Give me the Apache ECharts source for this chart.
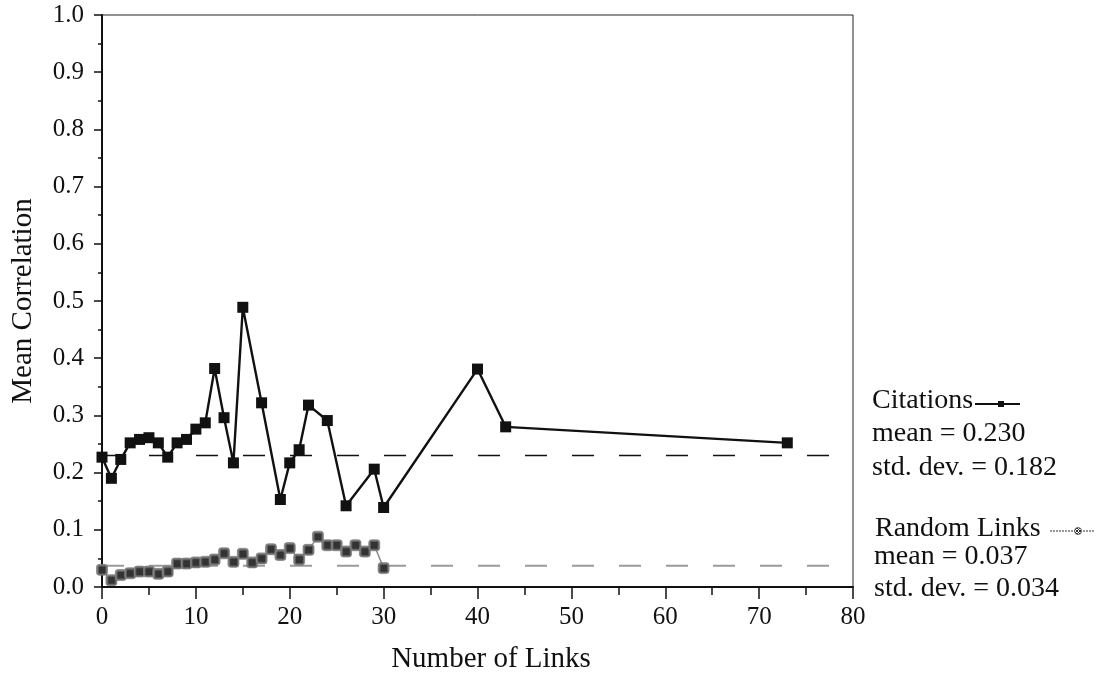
<!DOCTYPE html>
<html>
<head>
<meta charset="utf-8">
<script src="https://cdn.jsdelivr.net/npm/echarts@6/dist/echarts.min.js"></script>
<style>
  html, body { margin: 0; padding: 0; background: #ffffff; }
  #chart { width: 1103px; height: 676px; }
</style>
</head>
<body>
<div id="chart"></div>
<script>
// Mean correlation against number of links
const citationLinks = [0, 1, 2, 3, 4, 5, 6, 7, 8, 9, 10, 11, 12, 13, 14, 15, 17, 19, 20, 21, 22, 24, 26, 29, 30, 40, 43, 73];
const citationCorr  = [0.227, 0.190, 0.223, 0.252, 0.258, 0.261, 0.252, 0.227, 0.252, 0.258, 0.276, 0.287, 0.382, 0.296, 0.217, 0.489, 0.322, 0.153, 0.217, 0.240, 0.318, 0.291, 0.142, 0.206, 0.139, 0.381, 0.280, 0.252];

const randomLinks = [0, 1, 2, 3, 4, 5, 6, 7, 8, 9, 10, 11, 12, 13, 14, 15, 16, 17, 18, 19, 20, 21, 22, 23, 24, 25, 26, 27, 28, 29, 30];
const randomCorr  = [0.030, 0.012, 0.021, 0.024, 0.027, 0.027, 0.023, 0.027, 0.041, 0.041, 0.043, 0.044, 0.048, 0.059, 0.044, 0.058, 0.043, 0.050, 0.066, 0.056, 0.068, 0.048, 0.065, 0.088, 0.073, 0.073, 0.062, 0.073, 0.062, 0.073, 0.033];

const citationStats = { mean: 0.230, std: 0.182 };
const randomStats   = { mean: 0.037, std: 0.034 };
const meanSpan = [0, 78];

const xAxisRange = [0, 80, 10];
const yAxisRange = [0, 1, 0.1];

const seriesNames = ['Citations', 'Random Links'];

const SERIF = '"Liberation Serif", "Times New Roman", serif';
const INK = '#111111';

// small crosshatch fill for the random-link markers
function hatch() {
  const c = document.createElement('canvas');
  c.width = 3; c.height = 3;
  const g = c.getContext('2d');
  g.fillStyle = '#ffffff';
  g.fillRect(0, 0, 3, 3);
  g.fillStyle = '#333333';
  g.fillRect(0, 0, 1, 1);
  g.fillRect(2, 0, 1, 1);
  g.fillRect(1, 1, 1, 1);
  g.fillRect(0, 2, 1, 1);
  g.fillRect(2, 2, 1, 1);
  return c;
}
const hatchFill = { image: hatch(), repeat: 'repeat' };

const pairs = (xs, ys) => xs.map((x, i) => [x, ys[i]]);
const flat = (v) => meanSpan.map((x) => [x, v]);

const chart = echarts.init(document.getElementById('chart'), null, { renderer: 'canvas' });

const legendX = 872;
function label(text, x, baseline) {
  return {
    type: 'text', x: x, y: baseline - 9.5,
    style: { text: text, font: '28px ' + SERIF, fill: INK, verticalAlign: 'middle', align: 'left' }
  };
}

chart.setOption({
  animation: false,
  backgroundColor: '#ffffff',
  grid: {
    left: 102, right: 250, top: 15, bottom: 89,
    outerBoundsMode: 'none', containLabel: false,
    show: true, borderColor: '#222', borderWidth: 1, backgroundColor: 'transparent'
  },
  xAxis: {
    type: 'value',
    min: xAxisRange[0], max: xAxisRange[1], interval: xAxisRange[2],
    name: 'Number of Links',
    nameLocation: 'middle', nameGap: 58,
    nameTextStyle: { fontFamily: SERIF, fontSize: 29, color: INK, padding: [0, 0, 0, 27] },
    axisLine: { show: true, onZero: false, lineStyle: { color: INK, width: 2 } },
    axisTick: { show: true, length: 12, lineStyle: { color: INK, width: 1.5 } },
    minorTick: { show: true, splitNumber: 2, length: 8, lineStyle: { color: INK, width: 1.5 } },
    axisLabel: { fontFamily: SERIF, fontSize: 25, color: INK, margin: 18 },
    splitLine: { show: false }
  },
  yAxis: {
    type: 'value',
    min: yAxisRange[0], max: yAxisRange[1], interval: yAxisRange[2],
    name: 'Mean Correlation',
    nameLocation: 'middle', nameGap: 64,
    nameTextStyle: { fontFamily: SERIF, fontSize: 29, color: INK },
    axisLine: { show: true, onZero: false, lineStyle: { color: INK, width: 2 } },
    axisTick: { show: true, length: 8, lineStyle: { color: INK, width: 1.5 } },
    minorTick: { show: true, splitNumber: 2, length: 4, lineStyle: { color: INK, width: 1.5 } },
    axisLabel: { fontFamily: SERIF, fontSize: 25, color: INK, margin: 18, formatter: (v) => v.toFixed(1) },
    splitLine: { show: false }
  },
  series: [
    {
      name: seriesNames[0] + ' mean',
      type: 'line', data: flat(citationStats.mean), symbol: 'none', silent: true,
      lineStyle: { color: INK, width: 1.6, type: [22, 25] }, z: 1
    },
    {
      name: seriesNames[1] + ' mean',
      type: 'line', data: flat(randomStats.mean), symbol: 'none', silent: true,
      lineStyle: { color: '#9a9a9a', width: 2, type: [22, 25] }, z: 1
    },
    {
      name: seriesNames[1],
      type: 'line', data: pairs(randomLinks, randomCorr),
      symbol: 'roundRect', symbolSize: 11,
      itemStyle: { color: hatchFill, borderColor: '#666', borderWidth: 0.6 },
      lineStyle: { color: '#8a8a8a', width: 1.5 }, z: 3
    },
    {
      name: seriesNames[0],
      type: 'line', data: pairs(citationLinks, citationCorr),
      symbol: 'rect', symbolSize: 11,
      itemStyle: { color: INK },
      lineStyle: { color: INK, width: 2.4 }, z: 4
    }
  ],
  graphic: [
    label(seriesNames[0], legendX, 410),
    { type: 'line', shape: { x1: 975, y1: 404, x2: 1020, y2: 404 }, style: { stroke: INK, lineWidth: 2 } },
    { type: 'rect', shape: { x: 998, y: 401, width: 6, height: 6 }, style: { fill: INK } },
    label('mean = ' + citationStats.mean.toFixed(3), legendX, 443),
    label('std. dev. = ' + citationStats.std.toFixed(3), legendX, 477),
    label(seriesNames[1], legendX + 3, 538),
    { type: 'line', shape: { x1: 1050, y1: 531, x2: 1095, y2: 531 }, style: { stroke: '#777', lineWidth: 1.5, lineDash: [2, 1] } },
    { type: 'circle', shape: { cx: 1078, cy: 531, r: 3.5 }, style: { fill: hatchFill, stroke: '#555', lineWidth: 0.8 } },
    label('mean = ' + randomStats.mean.toFixed(3), legendX + 2, 566),
    label('std. dev. = ' + randomStats.std.toFixed(3), legendX + 2, 598)
  ]
});
</script>
</body>
</html>
